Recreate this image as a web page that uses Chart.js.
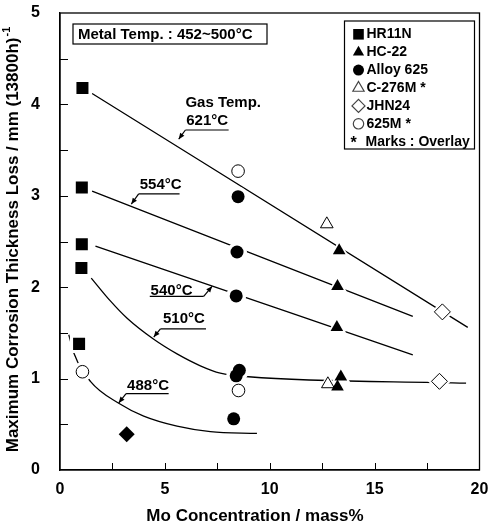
<!DOCTYPE html>
<html>
<head>
<meta charset="utf-8">
<script src="https://cdn.jsdelivr.net/npm/chart.js@4/dist/chart.umd.min.js"></script>
<style>
  html, body { margin: 0; padding: 0; background: #fff; overflow: hidden; }
  canvas { display: block; }
</style>
</head>
<body>
<canvas id="chart" width="488" height="528"></canvas>
<script>
// Values: x = Mo concentration (mass%), y = thickness loss (mm)
const hr11nX = [1.07, 1.04, 1.04, 1.02, 0.91];
const hr11nY = [4.18, 3.09, 2.47, 2.21, 1.38];
const hc22X = [13.31, 13.23, 13.20, 13.39, 13.23];
const hc22Y = [2.40, 2.01, 1.56, 1.02, 0.91];
const alloy625X = [8.49, 8.44, 8.40, 8.55, 8.40, 8.28];
const alloy625Y = [2.99, 2.385, 1.905, 1.09, 1.03, 0.56];
const c276mX = [12.72, 12.77];
const c276mY = [2.69, 0.94];
const jhn24X = [18.23, 18.09];
const jhn24Y = [1.73, 0.97];
const m625X = [8.49, 1.07, 8.51];
const m625Y = [3.27, 1.075, 0.87];
const otherX = [3.18];
const otherY = [0.39];

// Gas temperature trend lines
const line621X = [1.53, 19.44];
const line621Y = [4.12, 1.56];
const line554X = [1.53, 16.82];
const line554Y = [3.05, 1.68];
const line540X = [1.69, 16.82];
const line540Y = [2.45, 1.26];
const line510X = [1.49, 2.40, 3.20, 4.47, 5.58, 6.69, 7.64, 8.99, 19.36];
const line510Y = [2.10, 1.85, 1.66, 1.43, 1.27, 1.14, 1.06, 1.02, 0.95];
const line488X = [0.42, 0.66, 1.45, 2.80, 3.99, 5.58, 7.17, 9.39];
const line488Y = [1.48, 1.28, 0.97, 0.73, 0.59, 0.48, 0.42, 0.40];

const seriesNames = ['HR11N', 'HC-22', 'Alloy 625', 'C-276M *', 'JHN24', '625M *'];
const xTicks = [0, 5, 10, 15, 20];
const yTicks = [0, 1, 2, 3, 4, 5];

const FONT = "'Liberation Sans', Arial, sans-serif";
const PLOT_RIGHT = 479.5;

const pts = (xs, ys) => xs.map((x, i) => ({ x: x, y: ys[i] }));

// marker styles: [pointStyle, radius, filled]
const markerStyles = [
  ['rect', 8.5, true],
  ['triangle', 7.3, true],
  ['circle', 6.5, true],
  ['triangle', 7.3, false],
  ['rectRot', 8, false],
  ['circle', 6.3, false]
];
const markerData = [
  [hr11nX, hr11nY], [hc22X, hc22Y], [alloy625X, alloy625Y],
  [c276mX, c276mY], [jhn24X, jhn24Y], [m625X, m625Y]
];

const datasets = [];

markerData.forEach((d, i) => {
  const [style, r, filled] = markerStyles[i];
  datasets.push({
    label: seriesNames[i],
    data: pts(d[0], d[1]),
    pointStyle: style,
    pointRadius: r,
    pointBackgroundColor: filled ? '#000' : '#fff',
    pointBorderColor: '#000',
    pointBorderWidth: filled ? 0 : 1,
    showLine: false,
    order: 0
  });
  // white halo so the trend lines break around the marks
  datasets.push({
    label: seriesNames[i] + ' halo',
    data: pts(d[0], d[1]),
    pointStyle: style,
    pointRadius: r + (style === 'rect' ? 4.5 : 3.5),
    pointBackgroundColor: '#fff',
    pointBorderWidth: 0,
    showLine: false,
    order: 1
  });
});

datasets.push({
  label: 'unlabelled',
  data: pts(otherX, otherY),
  pointStyle: 'rectRot',
  pointRadius: 8,
  pointBackgroundColor: '#000',
  pointBorderWidth: 0,
  showLine: false,
  order: 0
});

[[line621X, line621Y], [line554X, line554Y], [line540X, line540Y],
 [line510X, line510Y], [line488X, line488Y]].forEach((d, i) => {
  datasets.push({
    label: ['621°C', '554°C', '540°C', '510°C', '488°C'][i],
    data: pts(d[0], d[1]),
    showLine: true,
    borderColor: '#000',
    borderWidth: 1.3,
    pointRadius: 0,
    cubicInterpolationMode: 'monotone',
    order: 2
  });
});

// text labels with leader arrows (data coordinates)
const notes = [
  { texts: [['Gas Temp.', 5.98, 4.02], ['621°C', 6.02, 3.82]], ul: [5.98, 8.04, 3.72], from: [5.98, 3.72], tip: [5.66, 3.62] },
  { texts: [['554°C', 3.80, 3.12]], ul: [3.75, 5.70, 3.02], from: [3.75, 3.02], tip: [3.40, 2.91] },
  { texts: [['540°C', 4.32, 1.96]], ul: [4.28, 6.85, 1.90], from: [6.85, 1.90], tip: [7.25, 2.01] },
  { texts: [['510°C', 4.91, 1.65]], ul: [4.79, 6.96, 1.545], from: [4.79, 1.545], tip: [4.47, 1.454] },
  { texts: [['488°C', 3.20, 0.92]], ul: [3.15, 5.18, 0.835], from: [3.15, 0.835], tip: [2.80, 0.734] }
];

function arrow(ctx, x1, y1, x2, y2) {
  ctx.beginPath(); ctx.moveTo(x1, y1); ctx.lineTo(x2, y2); ctx.stroke();
  const a = Math.atan2(y2 - y1, x2 - x1), L = 6, W = 2.6;
  ctx.beginPath();
  ctx.moveTo(x2, y2);
  ctx.lineTo(x2 - L * Math.cos(a) + W * Math.sin(a), y2 - L * Math.sin(a) - W * Math.cos(a));
  ctx.lineTo(x2 - L * Math.cos(a) - W * Math.sin(a), y2 - L * Math.sin(a) + W * Math.cos(a));
  ctx.closePath(); ctx.fill();
}

// widen the plot area to the right edge used in the original figure
const stretch = {
  id: 'stretch',
  afterLayout(chart) {
    const a = chart.chartArea, x = chart.scales.x;
    a.right = PLOT_RIGHT;
    a.width = a.right - a.left;
    x.right = PLOT_RIGHT;
    x.width = x.right - x.left;
    x.configure();
  }
};

const extras = {
  id: 'extras',
  afterDraw(chart) {
    const { ctx, chartArea: a, scales: { x, y } } = chart;
    ctx.save();
    ctx.strokeStyle = '#000';
    ctx.fillStyle = '#000';

    // frame
    ctx.lineWidth = 1.3;
    ctx.strokeRect(a.left, a.top, a.right - a.left, a.bottom - a.top);

    // inward ticks
    ctx.lineWidth = 1;
    x.ticks.forEach(t => {
      if (t.value <= x.min || t.value >= x.max) return;
      const px = Math.round(x.getPixelForValue(t.value)) + 0.5;
      ctx.beginPath(); ctx.moveTo(px, a.bottom); ctx.lineTo(px, a.bottom - 7); ctx.stroke();
    });
    y.ticks.forEach(t => {
      if (t.value <= y.min || t.value >= y.max) return;
      const py = Math.round(y.getPixelForValue(t.value)) + 0.5;
      ctx.beginPath(); ctx.moveTo(a.left, py); ctx.lineTo(a.left + 8, py); ctx.stroke();
    });

    // axis titles
    ctx.font = 'bold 17px ' + FONT;
    ctx.textBaseline = 'middle';
    ctx.textAlign = 'center';
    ctx.fillText('Mo Concentration / mass%', 255, 516);

    ctx.save();
    ctx.translate(13, 240);
    ctx.rotate(-Math.PI / 2);
    const main = 'Maximum Corrosion Thickness Loss / mm (13800h)';
    ctx.font = 'bold 17px ' + FONT;
    const w = ctx.measureText(main).width;
    ctx.font = 'bold 11px ' + FONT;
    const ws = ctx.measureText('-1').width;
    const sx = -(w + ws) / 2;
    ctx.textAlign = 'left';
    ctx.font = 'bold 17px ' + FONT;
    ctx.fillText(main, sx, 0);
    ctx.font = 'bold 11px ' + FONT;
    ctx.fillText('-1', sx + w + 1, -6);
    ctx.restore();

    // curve labels
    ctx.font = 'bold 15px ' + FONT;
    ctx.textAlign = 'left';
    ctx.textBaseline = 'middle';
    ctx.lineWidth = 1.2;
    notes.forEach(n => {
      n.texts.forEach(t => ctx.fillText(t[0], x.getPixelForValue(t[1]), y.getPixelForValue(t[2])));
      const uy = y.getPixelForValue(n.ul[2]);
      ctx.beginPath();
      ctx.moveTo(x.getPixelForValue(n.ul[0]), uy);
      ctx.lineTo(x.getPixelForValue(n.ul[1]), uy);
      ctx.stroke();
      arrow(ctx, x.getPixelForValue(n.from[0]), y.getPixelForValue(n.from[1]),
                 x.getPixelForValue(n.tip[0]), y.getPixelForValue(n.tip[1]));
    });

    // metal temperature box
    ctx.lineWidth = 1.2;
    ctx.strokeRect(a.left + 13, a.top + 11, 194, 20);
    ctx.font = 'bold 15px ' + FONT;
    ctx.fillText('Metal Temp. : 452~500°C', a.left + 18, a.top + 21.5);

    // legend
    const lx = a.right - 135, ly = a.top + 8;
    ctx.fillStyle = '#fff';
    ctx.fillRect(lx, ly, 130, 128);
    ctx.strokeStyle = '#000';
    ctx.lineWidth = 1.2;
    ctx.strokeRect(lx, ly, 130, 128);
    const legendR = [7.5, 6.5, 5.5, 6.5, 6.5, 5.2];
    seriesNames.forEach((name, i) => {
      const [style, , filled] = markerStyles[i];
      const cy = ly + 13.3 + i * 17.9;
      ctx.fillStyle = filled ? '#000' : '#fff';
      ctx.strokeStyle = filled ? '#000' : '#444';
      Chart.helpers.drawPoint(ctx, { pointStyle: style, radius: legendR[i], borderWidth: filled ? 0 : 1, rotation: 0 }, lx + 14, cy);
      ctx.fillStyle = '#000';
      ctx.font = 'bold 14px ' + FONT;
      ctx.fillText(name, lx + 22, cy);
    });
    const cyLast = ly + 13.3 + 6 * 17.9;
    ctx.font = 'bold 16px ' + FONT;
    ctx.fillText('*', lx + 6, cyLast + 2);
    ctx.font = 'bold 14px ' + FONT;
    ctx.fillText('Marks : Overlay', lx + 21, cyLast);

    ctx.restore();
  }
};

new Chart(document.getElementById('chart'), {
  type: 'scatter',
  data: { datasets: datasets },
  options: {
    responsive: false,
    animation: false,
    devicePixelRatio: 1,
    layout: { padding: { top: 12, right: 0, left: 0, bottom: 0 } },
    plugins: {
      legend: { display: false },
      tooltip: { enabled: false }
    },
    scales: {
      x: {
        type: 'linear',
        min: 0,
        max: 20,
        // transparent tick marks only push the labels down (real ticks are drawn inward)
        grid: { display: true, drawOnChartArea: false, drawTicks: true, tickLength: 10, color: 'rgba(0,0,0,0)' },
        border: { display: true, color: '#000', width: 1.3 },
        ticks: {
          stepSize: 2.5,
          autoSkip: false,
          maxRotation: 0,
          padding: 0,
          color: '#000',
          font: { family: FONT, size: 16, weight: 'bold' },
          callback: v => xTicks.includes(v) ? String(v) : ''
        },
        afterFit: s => { s.height = 58; s.paddingRight = 0; }
      },
      y: {
        type: 'linear',
        min: 0,
        max: 5,
        grid: { display: false },
        border: { display: true, color: '#000', width: 1.3 },
        ticks: {
          stepSize: 0.5,
          autoSkip: false,
          padding: 12,
          color: '#000',
          font: { family: FONT, size: 16, weight: 'bold' },
          callback: v => yTicks.includes(v) ? String(v) : ''
        },
        afterFit: s => { s.width = 60; s.paddingTop = 0; s.paddingBottom = 0; }
      }
    }
  },
  plugins: [stretch, extras]
});
</script>
</body>
</html>
